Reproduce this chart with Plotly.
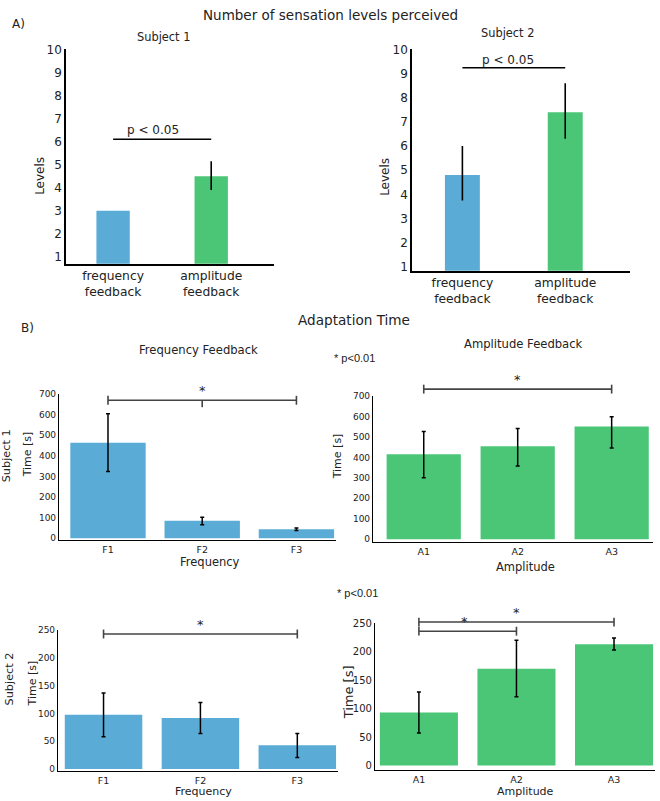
import plotly.graph_objects as go

# ---- data ----
level_cats = ["frequency<br>feedback", "amplitude<br>feedback"]
s1_levels = [3.0, 4.5]
s1_levels_up = [0, 0.65]
s1_levels_dn = [0, 0.6]
s2_levels = [4.8, 7.4]
s2_levels_up = [1.2, 1.2]
s2_levels_dn = [1.05, 1.1]

freq_cats = ["F1", "F2", "F3"]
amp_cats = ["A1", "A2", "A3"]

s1_freq = [464, 85, 43]
s1_freq_up = [140, 17, 6]
s1_freq_dn = [140, 20, 5]
s1_amp = [415, 454, 551]
s1_amp_up = [112, 88, 48]
s1_amp_dn = [115, 96, 105]

s2_freq = [98, 92, 43]
s2_freq_up = [39, 28, 21]
s2_freq_dn = [40, 28, 22]
s2_amp = [93, 170, 213]
s2_amp_up = [36, 50, 11]
s2_amp_dn = [36, 49, 10]

BLUE = "#5AACD7"
GREEN = "#4BC677"
W, H = 660, 801
FONT = "DejaVu Sans"


def px(x):
    return x / W


def py(y):
    return 1 - y / H


fig = go.Figure()

# suffix, cats, values, up, down, color, x px span, y px span (bottom, top), x range, y range, bar width, cap, ytick step, tick size
panels = [
    ("", level_cats, s1_levels, s1_levels_up, s1_levels_dn, [BLUE, GREEN], (66, 274), (260, 43), [-0.48, 1.64], [0.7, 10], 0.34, 0, 1, 12),
    ("2", level_cats, s2_levels, s2_levels_up, s2_levels_dn, [BLUE, GREEN], (412, 630), (267, 43), [-0.49, 1.63], [0.84, 10], 0.34, 0, 1, 12),
    ("3", freq_cats, s1_freq, s1_freq_up, s1_freq_dn, BLUE, (59, 336), (540, 392), [-0.52, 2.42], [-10, 700], 0.8, 2, 100, 9),
    ("4", amp_cats, s1_amp, s1_amp_up, s1_amp_dn, GREEN, (373, 653), (542, 394), [-0.54, 2.44], [-15, 700], 0.79, 2, 100, 9),
    ("5", freq_cats, s2_freq, s2_freq_up, s2_freq_dn, BLUE, (58, 338), (774, 631), [-0.47, 2.42], [-4, 250], 0.8, 2, 50, 9),
    ("6", amp_cats, s2_amp, s2_amp_up, s2_amp_dn, GREEN, (375, 655), (773, 624), [-0.45, 2.42], [-8.5, 250], 0.8, 2, 50, 10),
]

geom = {}
layout_axes = {}
for i, (sfx, cats, vals, up, dn, col, xd, yd, xr, yr, bw, cap, step, tsize) in enumerate(panels):
    top_row = i < 2
    geom[sfx] = (xd, yd, xr, yr)
    fig.add_trace(go.Bar(
        x=cats, y=vals, width=bw, marker_color=col, marker_line_width=0,
        error_y=dict(type="data", symmetric=False, array=up, arrayminus=dn,
                     color="black", thickness=1.6 if top_row else 1.5, width=cap),
        xaxis="x" + sfx, yaxis="y" + sfx, showlegend=False,
    ))
    layout_axes["xaxis" + sfx] = dict(
        domain=[px(xd[0]), px(xd[1])], range=xr, type="category", anchor="y" + sfx,
        showline=True, linecolor="black", linewidth=1.5 if top_row else 1.2,
        ticks="", showgrid=False, zeroline=False,
        tickfont=dict(size=12.3 if top_row else 9.5, color="#222", family=FONT),
    )
    layout_axes["yaxis" + sfx] = dict(
        domain=[py(yd[0]), py(yd[1])], range=yr, anchor="x" + sfx,
        showline=True, linecolor="black", linewidth=1.5 if top_row else 1.2,
        ticks="", showgrid=False, zeroline=False, dtick=step, tick0=0,
        tickfont=dict(size=tsize, color="#222", family=FONT),
    )
    if top_row:
        layout_axes["yaxis" + sfx]["tickvals"] = list(range(1, 11))

fig.update_layout(**layout_axes)


def to_px(sfx, xi, yv):
    # map a category index / data value onto page pixels of that panel
    xd, yd, xr, yr = geom[sfx]
    x = xd[0] + (xi - xr[0]) / (xr[1] - xr[0]) * (xd[1] - xd[0])
    y = yd[0] + (yv - yr[0]) / (yr[1] - yr[0]) * (yd[1] - yd[0])
    return x, y


shapes = []


def seg(x0, y0, x1, y1, color, width):
    shapes.append(dict(type="line", xref="paper", yref="paper",
                       x0=px(x0), y0=py(y0), x1=px(x1), y1=py(y1),
                       line=dict(color=color, width=width)))


def sig_line(sfx, i0, i1, yv):
    xa, ya = to_px(sfx, i0, yv)
    xb, _ = to_px(sfx, i1, yv)
    seg(xa, ya, xb, ya, "black", 1.5)


def bracket(sfx, i0, i1, yv, mid=False):
    c = "#444"
    xa, ya = to_px(sfx, i0, yv)
    xb, _ = to_px(sfx, i1, yv)
    seg(xa, ya, xb, ya, c, 1.6)
    seg(xa, ya - 4.5, xa, ya + 4.5, c, 1.6)
    seg(xb, ya - 4.5, xb, ya + 4.5, c, 1.6)
    if mid:
        xm, _ = to_px(sfx, (i0 + i1) / 2, yv)
        seg(xm, ya, xm, ya + 7, c, 1.6)
    return (xa + xb) / 2, ya


ann = []


def text(x, y, s, size=12, angle=0, family=FONT, color="#222"):
    ann.append(dict(x=px(x), y=py(y), xref="paper", yref="paper", text=s,
                    showarrow=False, textangle=angle, xanchor="center", yanchor="middle",
                    font=dict(size=size, family=family, color=color)))


sig_line("", 0, 1, 6.1)
sig_line("2", 0, 1, 9.24)
for sfx, i0, i1, yv, mid in [("3", 0, 2, 670, True), ("4", 0, 2, 734, False),
                             ("5", 0, 2, 243, False), ("6", 0, 1, 236, False),
                             ("6", 0, 2, 252, False)]:
    cx, cy = bracket(sfx, i0, i1, yv, mid)
    text(cx - 3 if sfx == "6" and i1 == 1 else cx, cy - 10, "*", 13)

text(330, 8, "Number of sensation levels perceived", 13.5)
text(18, 17, "A)", 12)
text(163, 30, "Subject 1", 11.4)
text(507, 26, "Subject 2", 11.4)
text(40, 171, "Levels", 12, -90)
text(385, 172, "Levels", 12, -90)
text(153, 125, "p < 0.05", 12)
text(508, 54, "p < 0.05", 12)

text(27, 325, "B)", 12)
text(354, 317, "Adaptation Time", 13.6)
text(198, 347, "Frequency Feedback", 11.6)
text(523, 341, "Amplitude Feedback", 11.6)
text(354, 355, "* p<0.01", 11, family="Liberation Sans")
text(357, 593, "* p<0.01", 11, family="Liberation Sans")

text(6, 455, "Subject 1", 11.3, -90)
text(27, 453, "Time [s]", 11, -90)
text(337, 455, "Time [s]", 11, -90)
text(210, 562, "Frequency", 11.5)
text(525, 567, "Amplitude", 11.5)

text(9, 681, "Subject 2", 11.3, -90)
text(32, 685, "Time [s]", 11, -90)
text(348, 694, "Time [s]", 13, -90)
text(203, 794.5, "Frequency", 11)
text(525, 794.5, "Amplitude", 11)

fig.update_layout(
    width=W, height=H, margin=dict(l=0, r=0, t=0, b=0),
    plot_bgcolor="white", paper_bgcolor="white",
    font=dict(family=FONT, color="#222"),
    annotations=ann, shapes=shapes, bargap=0.2,
)

fig.write_html("out.html", config={"displayModeBar": False},
               post_script="document.body.style.margin='0';document.body.style.overflow='hidden';")
